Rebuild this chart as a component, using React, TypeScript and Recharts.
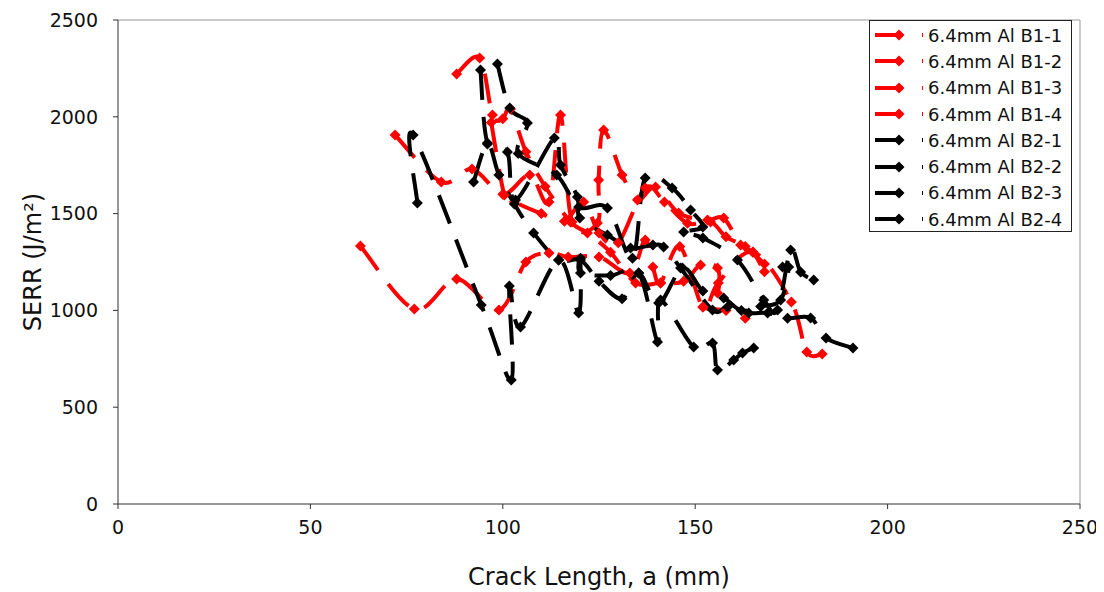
import { LineChart, Line, XAxis, YAxis, ReferenceLine } from "recharts"

// crack length (mm), SERR (J/m^2) pairs
const b1_1 = [[63, 1333], [77, 1007], [88, 1162], [99, 1002], [106, 1250], [112, 1296], [117, 1276], [125, 1276], [133, 1193], [137, 1364], [139, 1224], [141, 1142], [146, 1330], [152, 1018], [156, 1142], [165, 1302], [175, 1043], [179, 785], [183, 775]]
const b1_2 = [[72, 1906], [84, 1663], [92, 1730], [100, 1600], [107, 1699], [112, 1560], [115, 2009], [118, 1457], [124.6, 1451], [124.9, 1674], [126.2, 1932], [131, 1700], [135, 1570], [139.7, 1637], [145.7, 1503], [153.2, 1467], [157.4, 1477], [161.8, 1338], [165, 1300], [168, 1200]]
const b1_3 = [[88, 2221], [94, 2304], [97.3, 2009], [100, 1990], [102, 2040], [106, 1820], [111, 1640], [117.6, 1457], [122, 1400], [128, 1300], [134.5, 1142], [141, 1142], [147, 1150], [151.4, 1234], [155.8, 1219], [155.8, 1090], [152, 1018], [158, 1000], [163, 960]]
const b1_4 = [[97, 1970], [100.4, 1596], [103, 1560], [110, 1500], [116, 1460], [121, 1560], [125, 1400], [130, 1350], [137, 1632], [142, 1560], [148, 1450], [154, 1457], [158, 1380], [163, 1330], [168, 1240]]

const b2_1 = [[77.8, 1555], [76.7, 1906], [94.4, 1028], [102.2, 640], [101.7, 1126], [104.6, 914], [114.5, 1260], [119.7, 987], [120.2, 1270], [120.2, 1193], [128, 1180], [135.3, 1193], [140.2, 837], [141, 1054], [149.6, 811], [154.5, 832], [155.8, 692], [160, 744], [162.3, 780], [165.2, 806]]
const b2_2 = [[94.2, 2242], [96, 1865], [101.2, 1818], [103.3, 1570], [113.4, 1890], [115, 1751], [119.4, 1586], [120, 1477], [127.2, 1389], [133.2, 1322], [139, 1338], [141.8, 1327], [146.2, 1219], [154.5, 1002], [158.4, 1018], [163.9, 987], [168.8, 987], [174, 960], [180, 961], [184, 857], [191, 806]]
const b2_3 = [[98.6, 2273], [101.8, 2045], [106.4, 1968], [104, 1810], [114, 1700], [119.7, 1534], [127.2, 1529], [133.7, 1270], [137, 1684], [144, 1632], [148.8, 1519], [152, 1431], [147, 1405], [152, 1374], [161, 1260], [167.8, 1054], [171.4, 1002], [174.8, 1312], [177.4, 1198], [180.8, 1157]]
const b2_4 = [[92.4, 1663], [96, 1860], [99, 1700], [103, 1550], [108, 1400], [114.5, 1260], [120.2, 1260], [125, 1150], [131, 1060], [135.3, 1193], [140.5, 1038], [146.7, 1219], [152, 1100], [157.4, 1064], [162, 1000], [167, 1020], [172.2, 1054], [174.3, 1224], [172.7, 1224]]

const seriesNames = ["6.4mm Al B1-1", "6.4mm Al B1-2", "6.4mm Al B1-3", "6.4mm Al B1-4", "6.4mm Al B2-1", "6.4mm Al B2-2", "6.4mm Al B2-3", "6.4mm Al B2-4"]
const seriesData = [b1_1, b1_2, b1_3, b1_4, b2_1, b2_2, b2_3, b2_4]
const seriesColors = ["#ff0000", "#ff0000", "#ff0000", "#ff0000", "#000000", "#000000", "#000000", "#000000"]

const xTicks = [0, 50, 100, 150, 200, 250]
const yTicks = [0, 500, 1000, 1500, 2000, 2500]

const FONT = "'DejaVu Sans', Verdana, sans-serif"
const DASH = "30 17"

// excel style smoothed line (catmull-rom through the points)
function smoothCurve(context: any) {
    let pts: number[][] = []
    return {
        areaStart() {},
        areaEnd() {},
        lineStart() { pts = [] },
        point(x: number, y: number) { pts.push([+x, +y]) },
        lineEnd() {
            if (!pts.length) return
            context.moveTo(pts[0][0], pts[0][1])
            for (let i = 0; i < pts.length - 1; i++) {
                const p0 = pts[i - 1] || pts[i]
                const p1 = pts[i]
                const p2 = pts[i + 1]
                const p3 = pts[i + 2] || p2
                const t = 1 / 6
                context.bezierCurveTo(
                    p1[0] + (p2[0] - p0[0]) * t, p1[1] + (p2[1] - p0[1]) * t,
                    p2[0] - (p3[0] - p1[0]) * t, p2[1] - (p3[1] - p1[1]) * t,
                    p2[0], p2[1]
                )
            }
        },
    }
}

function diamond(color: string) {
    return (props: any) => {
        const { cx, cy, index } = props
        if (cx == null || cy == null) return <g key={`d-${index}`} />
        const r = 5.5
        return (
            <path key={`d-${index}`} d={`M${cx},${cy - r}L${cx + r},${cy}L${cx},${cy + r}L${cx - r},${cy}Z`} fill={color} stroke="none" />
        )
    }
}

function ChartLegend() {
    return (
        <div style={{ position: "absolute", left: 861, top: 12, width: 201, height: 210, border: "1px solid #222", background: "#fff", fontFamily: FONT }}>
            {seriesNames.map((name, i) => (
                <div key={name} style={{ position: "absolute", left: 0, top: 1 + i * 26.3, height: 26.3, width: 200, display: "flex", alignItems: "center" }}>
                    <svg width={52} height={14} style={{ marginLeft: 5 }}>
                        <line x1={0} y1={7} x2={48} y2={7} stroke={seriesColors[i]} strokeWidth={4} strokeDasharray="28 19" />
                        <path d="M24,1.5L29.5,7L24,12.5L18.5,7Z" fill={seriesColors[i]} />
                    </svg>
                    <span style={{ marginLeft: 1, fontSize: 18, color: "#111", whiteSpace: "nowrap" }}>{name}</span>
                </div>
            ))}
        </div>
    )
}

export default function App() {
    const data = seriesData.map(s => s.map(p => ({ a: p[0], v: p[1] })))

    return (
        <div style={{ position: "relative", width: 1096, height: 584, fontFamily: FONT }}>
            <LineChart width={1096} height={584} margin={{ top: 12, right: 24, bottom: 7, left: 10 }}>
                <XAxis
                    type="number"
                    dataKey="a"
                    domain={[0, 250]}
                    ticks={xTicks}
                    allowDataOverflow
                    height={81}
                    stroke="#333"
                    tickSize={5}
                    tickMargin={12}
                    tick={{ fill: "#111", fontSize: 19, fontFamily: FONT }}
                    label={{ value: "Crack Length, a (mm)", position: "insideBottom", offset: 0, fill: "#111", fontSize: 24, fontFamily: FONT }}
                />
                <YAxis
                    type="number"
                    dataKey="v"
                    domain={[0, 2500]}
                    ticks={yTicks}
                    allowDataOverflow
                    width={100}
                    stroke="#333"
                    tickSize={5}
                    tickMargin={15}
                    tick={{ fill: "#111", fontSize: 19, fontFamily: FONT }}
                    label={{ value: "SERR (J/m²)", angle: -90, position: "insideLeft", offset: 14, fill: "#111", fontSize: 24, fontFamily: FONT, style: { textAnchor: "middle" } }}
                />
                <ReferenceLine y={2500} stroke="#999" />
                <ReferenceLine x={250} stroke="#999" />
                {data.map((d, i) => (
                    <Line
                        key={seriesNames[i]}
                        data={d}
                        dataKey="v"
                        name={seriesNames[i]}
                        type={smoothCurve as any}
                        stroke={seriesColors[i]}
                        strokeWidth={4}
                        strokeDasharray={DASH}
                        dot={diamond(seriesColors[i])}
                        activeDot={false}
                        isAnimationActive={false}
                    />
                ))}
            </LineChart>
            <ChartLegend />
        </div>
    )
}
